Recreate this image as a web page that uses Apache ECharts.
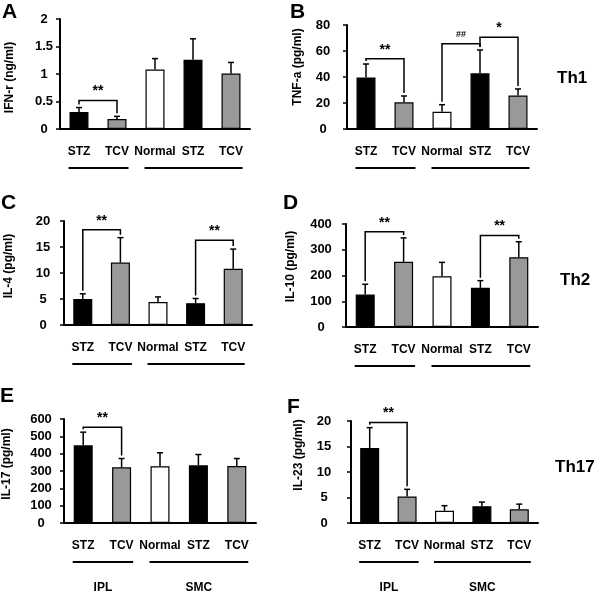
<!DOCTYPE html>
<html><head><meta charset="utf-8">
<script src="https://cdn.jsdelivr.net/npm/echarts@6/dist/echarts.min.js"></script>
<style>html,body{margin:0;padding:0;background:#fff}#c{width:600px;height:592px}</style>
</head><body><div id="c"></div>
<script>
// ---------- data ----------
const categories = ['STZ', 'TCV', 'Normal', 'STZ', 'TCV'];
const barColors = ['#000000', '#999999', '#ffffff', '#000000', '#999999'];
const groupSpans = [[0, 1], [2, 4]];
const groupNames = ['IPL', 'SMC'];

const ifnMean = [0.31, 0.18, 1.08, 1.26, 1.01];
const ifnErr  = [0.39, 0.23, 1.28, 1.64, 1.21];
const tnfMean = [39.7, 20.5, 13.3, 42.8, 25.8];
const tnfErr  = [50, 25.4, 18.7, 60.8, 30.8];
const il4Mean = [5.0, 12.0, 4.4, 4.2, 10.8];
const il4Err  = [6.0, 16.8, 5.4, 5.1, 14.6];
const il10Mean = [126, 253, 197, 152, 271];
const il10Err  = [166, 346, 251, 180, 331];
const il17Mean = [448, 321, 327, 333, 329];
const il17Err  = [524, 372, 405, 395, 372];
const il23Mean = [14.7, 5.2, 2.4, 3.3, 2.7];
const il23Err  = [18.7, 6.6, 3.4, 4.1, 3.7];

// brackets: [fromCategory, toCategory, level]
const bracketsA = [[0, 1, 0.52]];          const bracketLabelsA = ['**'];
const bracketsB = [[0, 1, 54], [2, 3, 65.6], [3, 4, 70.5]]; const bracketLabelsB = ['**', '##', '*'];
const bracketsC = [[0, 1, 18.3], [3, 4, 16.3]]; const bracketLabelsC = ['**', '**'];
const bracketsD = [[0, 1, 370], [3, 4, 355]];   const bracketLabelsD = ['**', '**'];
const bracketsE = [[0, 1, 553]];           const bracketLabelsE = ['**'];
const bracketsF = [[0, 1, 19.7]];          const bracketLabelsF = ['**'];

const yTitles = ['IFN-r (ng/ml)', 'TNF-a (pg/ml)', 'IL-4 (pg/ml)', 'IL-10 (pg/ml)', 'IL-17 (pg/ml)', 'IL-23 (pg/ml)'];
const yMax = [2, 80, 20, 400, 600, 20];
const yStep = [0.5, 20, 5, 100, 100, 5];
const panelLetters = ['A', 'B', 'C', 'D', 'E', 'F'];
const sideLabels = ['Th1', 'Th2', 'Th17'];

// ---------- layout ----------
const FONT = 'Liberation Sans, Arial, sans-serif';
const panels = [
  {mean: ifnMean, err: ifnErr, br: bracketsA, bl: bracketLabelsA, grid: {left: 60, top: 19, width: 190, height: 110}, lm: 16, ng: 44, pad: [0, 7, 0, 0], groupLabels: false},
  {mean: tnfMean, err: tnfErr, br: bracketsB, bl: bracketLabelsB, grid: {left: 347, top: 25, width: 190, height: 104}, lm: 24, ng: 43, pad: [0, 0, 0, 20], groupLabels: false},
  {mean: il4Mean, err: il4Err, br: bracketsC, bl: bracketLabelsC, grid: {left: 64, top: 221, width: 188, height: 104}, lm: 21, ng: 49, pad: [0, 0, 0, 14], groupLabels: false},
  {mean: il10Mean, err: il10Err, br: bracketsD, bl: bracketLabelsD, grid: {left: 346, top: 224, width: 192, height: 103}, lm: 25, ng: 49, pad: [0, 0, 0, 18], groupLabels: false},
  {mean: il17Mean, err: il17Err, br: bracketsE, bl: bracketLabelsE, grid: {left: 64, top: 419, width: 192, height: 104}, lm: 23, ng: 51, pad: [0, 0, 0, 14], groupLabels: true},
  {mean: il23Mean, err: il23Err, br: bracketsF, bl: bracketLabelsF, grid: {left: 351, top: 421, width: 187, height: 102}, lm: 27, ng: 46, pad: [0, 0, 0, 34], groupLabels: true}
];
const BAR_W = 19;

function errRender(params, api) {
  const x = api.value(0), m = api.value(1), e = api.value(2);
  const p0 = api.coord([x, m]), p1 = api.coord([x, e]);
  return {type: 'group', children: [
    {type: 'line', shape: {x1: p0[0], y1: p0[1], x2: p1[0], y2: p1[1]}, style: {stroke: '#000', lineWidth: 1.5}},
    {type: 'line', shape: {x1: p1[0] - 3, y1: p1[1], x2: p1[0] + 3, y2: p1[1]}, style: {stroke: '#000', lineWidth: 1.5}}
  ]};
}
function bracketRender(labels) {
  return function (params, api) {
    const a = api.value(0), b = api.value(1), lv = api.value(2), ea = api.value(3), eb = api.value(4);
    const pa = api.coord([a, lv]), pb = api.coord([b, lv]);
    const qa = api.coord([a, ea]), qb = api.coord([b, eb]);
    const lab = labels[params.dataIndex];
    const isHash = lab.indexOf('#') >= 0;
    return {type: 'group', children: [
      {type: 'polyline', shape: {points: [[pa[0], qa[1] - 3], [pa[0], pa[1]], [pb[0], pb[1]], [pb[0], qb[1] - 3]]},
        style: {stroke: '#000', lineWidth: 1.5, fill: 'none'}},
      {type: 'text', style: {text: lab, x: (pa[0] + pb[0]) / 2, y: pa[1] - (isHash ? 5 : 2), align: 'center', verticalAlign: 'bottom',
        font: 'bold ' + (isHash ? 9 : 14) + 'px ' + FONT, fill: '#000'}}
    ]};
  };
}
function groupRender(withNames) {
  return function (params, api) {
    const p1 = api.coord([api.value(0), 0]), p2 = api.coord([api.value(1), 0]);
    const x1 = p1[0] - BAR_W / 2 - 1, x2 = p2[0] + BAR_W / 2 + 2;
    const kids = [{type: 'line', shape: {x1: x1, y1: p1[1] + 39, x2: x2, y2: p1[1] + 39}, style: {stroke: '#000', lineWidth: 2}}];
    if (withNames) {
      kids.push({type: 'text', style: {text: groupNames[params.dataIndex], x: (x1 + x2) / 2, y: p1[1] + 65, align: 'center', verticalAlign: 'middle',
        font: 'bold 12px ' + FONT, fill: '#000'}});
    }
    return {type: 'group', children: kids};
  };
}

const grids = [], xAxes = [], yAxes = [], series = [];
panels.forEach((p, i) => {
  grids.push(Object.assign({containLabel: false}, p.grid));
  xAxes.push({type: 'category', gridIndex: i, data: categories,
    axisLine: {lineStyle: {color: '#000', width: 2}}, axisTick: {show: false},
    axisLabel: {color: '#000', fontWeight: 'bold', fontSize: 12, fontFamily: FONT, margin: 17, interval: 0}});
  yAxes.push({type: 'value', gridIndex: i, min: 0, max: yMax[i], interval: yStep[i],
    axisLine: {show: true, lineStyle: {color: '#000', width: 2}},
    axisTick: {show: true, length: 4, lineStyle: {color: '#000', width: 1.5}},
    splitLine: {show: false},
    axisLabel: {color: '#000', fontWeight: 'bold', fontSize: 13, fontFamily: FONT, margin: p.lm, align: 'center'},
    name: yTitles[i], nameLocation: 'middle', nameGap: p.ng,
    nameTextStyle: {color: '#000', fontWeight: 'bold', fontSize: 12, fontFamily: FONT, padding: p.pad}});
  series.push({type: 'bar', xAxisIndex: i, yAxisIndex: i, barWidth: BAR_W, animation: false,
    data: p.mean.map((v, k) => ({value: v, itemStyle: {color: barColors[k], borderColor: '#000', borderWidth: 1.2}}))});
  series.push({type: 'custom', xAxisIndex: i, yAxisIndex: i, animation: false, clip: false,
    data: p.mean.map((v, k) => [k, v, p.err[k]]), encode: {x: 0, y: [1, 2]}, renderItem: errRender, z: 3});
  series.push({type: 'custom', xAxisIndex: i, yAxisIndex: i, animation: false, clip: false,
    data: p.br.map(b => [b[0], b[1], b[2], p.err[b[0]], p.err[b[1]]]), encode: {x: [0, 1], y: [2, 3, 4]},
    renderItem: bracketRender(p.bl), z: 4});
  series.push({type: 'custom', xAxisIndex: i, yAxisIndex: i, animation: false, clip: false,
    data: groupSpans.map(g => [g[0], g[1], 0]), encode: {x: [0, 1], y: 2},
    renderItem: groupRender(p.groupLabels), z: 4});
});

const letterPos = [[2, 2], [290, 2], [1, 193], [283, 193], [0, 386], [287, 397]];
const sidePos = [[557, 78], [560, 280], [555, 467]];
const graphics = [];
panelLetters.forEach((t, i) => graphics.push({type: 'text', left: letterPos[i][0], top: letterPos[i][1],
  style: {text: t, font: 'bold 21px ' + FONT, fill: '#000'}}));
sideLabels.forEach((t, i) => graphics.push({type: 'text', x: sidePos[i][0], y: sidePos[i][1],
  style: {text: t, font: 'bold 17px ' + FONT, fill: '#000', verticalAlign: 'middle'}}));

const chart = echarts.init(document.getElementById('c'), null, {renderer: 'canvas'});
chart.setOption({animation: false, backgroundColor: '#fff', grid: grids, xAxis: xAxes, yAxis: yAxes, series: series, graphic: graphics});
</script>
</body></html>
